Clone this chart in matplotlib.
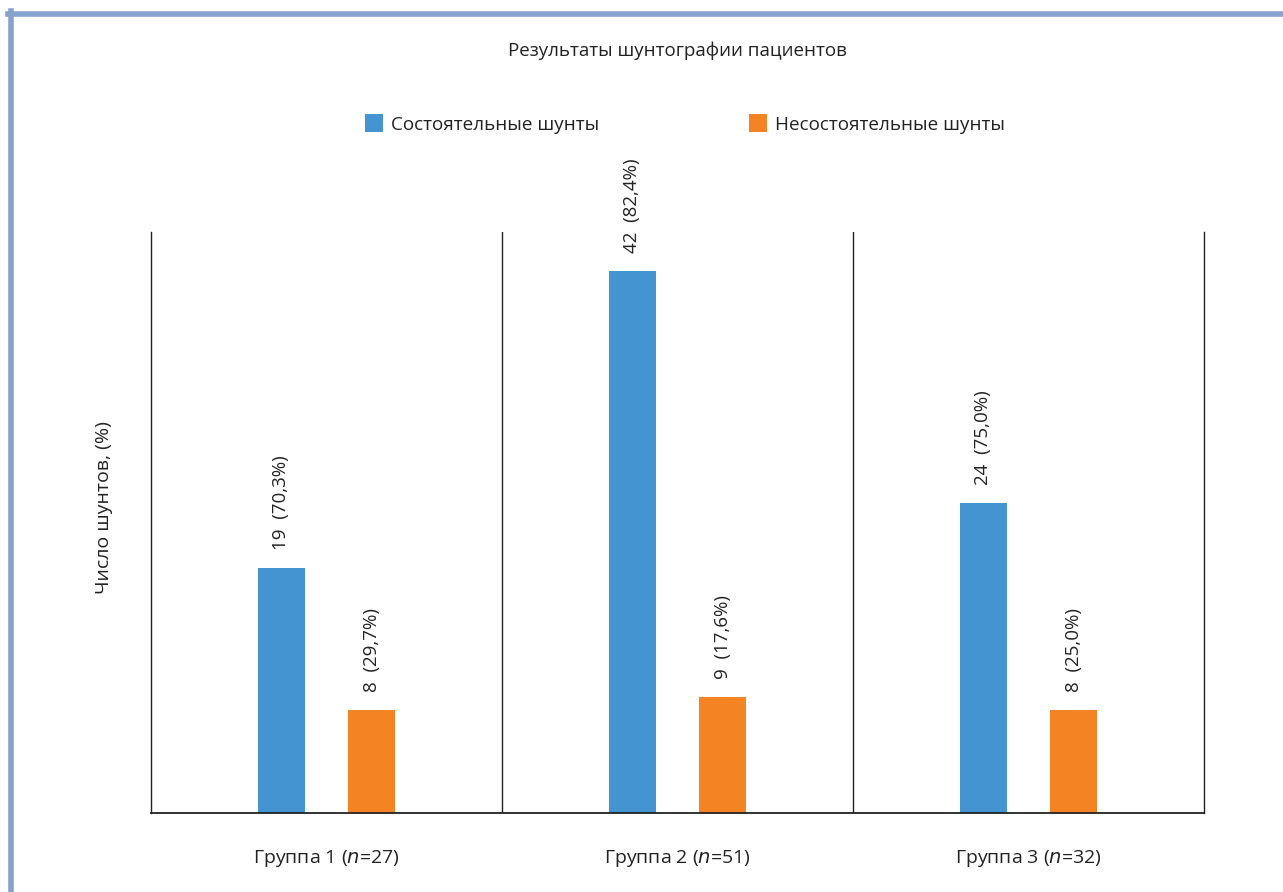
import matplotlib
matplotlib.use("Agg")
import matplotlib.pyplot as plt
from matplotlib.patches import Patch
from matplotlib.lines import Line2D
import numpy as np

plt.rcParams['font.family'] = ['Open Sans', 'DejaVu Sans']

groups = ["Группа 1 ($\\it{n}$=27)", "Группа 2 ($\\it{n}$=51)", "Группа 3 ($\\it{n}$=32)"]
series_names = ["Состоятельные шунты", "Несостоятельные шунты"]
patent = [19, 42, 24]
patent_pct = ["70,3%", "82,4%", "75,0%"]
failed = [8, 9, 8]
failed_pct = ["29,7%", "17,6%", "25,0%"]

blue = "#4394D0"
orange = "#F48423"
ink = "#222222"

fig = plt.figure(figsize=(12.83, 8.92), dpi=100)
ax = fig.add_axes([151/1283, 1 - 813/892, (1204 - 151)/1283, (813 - 232)/892])

x = np.arange(len(groups))
w = 0.135
off = 0.129
b1 = ax.bar(x - off, patent, width=w, color=blue)
b2 = ax.bar(x + off, failed, width=w, color=orange)

for rects, vals, pcts in [(b1, patent, patent_pct), (b2, failed, failed_pct)]:
    for r, v, p in zip(rects, vals, pcts):
        ax.annotate(f"{v}  ({p})", (r.get_x() + r.get_width()/2, v),
                    xytext=(0, 13), textcoords="offset points",
                    rotation=90, ha="center", va="bottom", fontsize=13.5, color=ink)

ax.set_xlim(-0.5, len(groups) - 0.5)
ax.set_ylim(0, 45)
for b in range(1, len(groups)):
    ax.axvline(b - 0.5, color=ink, lw=1.0)
for s in ["left", "right", "bottom"]:
    ax.spines[s].set_color(ink)
    ax.spines[s].set_linewidth(1.0)
ax.spines["bottom"].set_linewidth(1.3)
ax.spines["top"].set_visible(False)
ax.set_yticks([])
ax.set_xticks(x)
ax.set_xticklabels(groups, fontsize=14, color=ink)
ax.tick_params(axis="x", length=0, pad=25)

fig.text(104/1283, 1 - 508/892, "Число шунтов, (%)", rotation=90,
         ha="center", va="center", fontsize=14, color=ink)
fig.text(677/1283, 1 - 51/892, "Результаты шунтографии пациентов",
         ha="center", va="center", fontsize=13.5, color=ink)

handles = [Patch(facecolor=blue), Patch(facecolor=orange)]
fig.legend(handles, series_names, loc="center", bbox_to_anchor=(685/1283, 1 - 124/892),
           ncol=2, frameon=False, fontsize=13.6, handlelength=0.95, handleheight=1.05,
           handletextpad=0.42, columnspacing=7.9, labelcolor=ink)

# page frame
frame = "#85A3CC"
fig.add_artist(Line2D([8/1283, 1], [1 - 13.5/892, 1 - 13.5/892], color=frame, lw=4, transform=fig.transFigure))
fig.add_artist(Line2D([10.5/1283, 10.5/1283], [0, 1 - 11/892], color=frame, lw=4, transform=fig.transFigure))

fig.savefig("out.png", dpi=100)
